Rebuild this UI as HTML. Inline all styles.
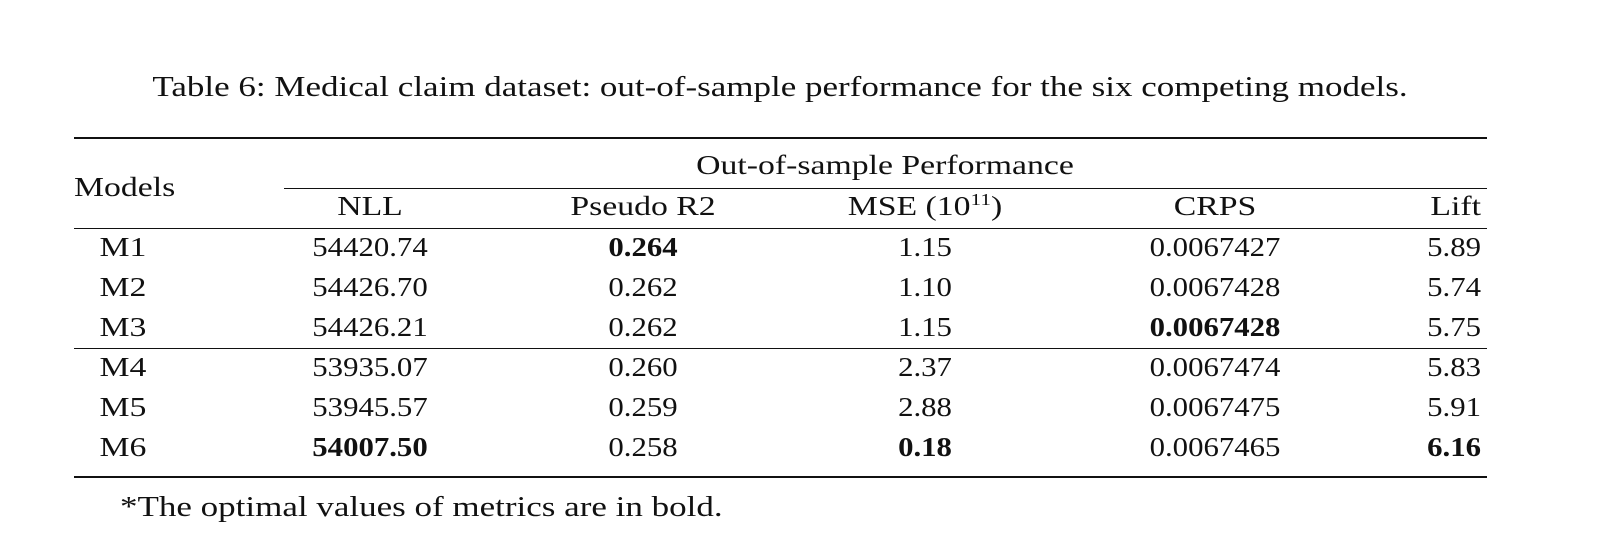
<!DOCTYPE html>
<html><head><meta charset="utf-8">
<style>
body{margin:0;width:1613px;height:551px;background:#fff;position:relative;overflow:hidden;font-family:"Liberation Serif",serif;color:#111;}
.t{position:absolute;font-size:27px;line-height:30px;white-space:nowrap;--s:1.14;}
.w{--s:1.25;}
.l{transform:scaleX(var(--s));transform-origin:left center;}
.c{transform:translateX(-50%) scaleX(var(--s));transform-origin:center center;}
.r{transform:translateX(-100%) scaleX(var(--s));transform-origin:right center;}
.rule{position:absolute;background:#111;}
sup{font-size:17px;line-height:0;}
</style></head><body>
<div class="t c w" style="left:780px;top:73px;font-size:28px;">Table 6: Medical claim dataset: out-of-sample performance for the six competing models.</div>
<div class="rule" style="left:74px;top:137px;width:1413px;height:2px"></div>
<div class="t l w" style="left:74px;top:172px;">Models</div>
<div class="t c w" style="left:885px;top:150px;">Out-of-sample Performance</div>
<div class="rule" style="left:284px;top:188px;width:1203px;height:1px"></div>
<div class="t c w" style="left:370px;top:191px;">NLL</div>
<div class="t c w" style="left:643px;top:191px;">Pseudo R2</div>
<div class="t c w" style="left:925px;top:191px;">MSE (10<sup>11</sup>)</div>
<div class="t c w" style="left:1215px;top:191px;">CRPS</div>
<div class="t r w" style="left:1481px;top:191px;">Lift</div>
<div class="rule" style="left:74px;top:228px;width:1413px;height:1px"></div>
<div class="rule" style="left:74px;top:348px;width:1413px;height:1px"></div>
<div class="rule" style="left:74px;top:476px;width:1413px;height:2px"></div>
<div class="t l w" style="left:120px;top:493px;font-size:28px;">*The optimal values of metrics are in bold.</div>
<script>
const models=["M1","M2","M3","M4","M5","M6"];
const nll=["54420.74","54426.70","54426.21","53935.07","53945.57","54007.50"];
const r2=["0.264","0.262","0.262","0.260","0.259","0.258"];
const mse=["1.15","1.10","1.15","2.37","2.88","0.18"];
const crps=["0.0067427","0.0067428","0.0067428","0.0067474","0.0067475","0.0067465"];
const lift=["5.89","5.74","5.75","5.83","5.91","6.16"];
const bold={nll:5,r2:0,mse:5,crps:2,lift:5};
const rowTops=[232,272,312,352,392,432];
const cols=[["model",models,123,"c w",-1],["nll",nll,370,"c",bold.nll],["r2",r2,643,"c",bold.r2],["mse",mse,925,"c",bold.mse],["crps",crps,1215,"c",bold.crps],["lift",lift,1481,"r",bold.lift]];
models.forEach((m,i)=>{
  cols.forEach(([k,arr,x,al,b])=>{
    const d=document.createElement('div');
    d.className='t '+al;
    d.style.left=x+'px';d.style.top=rowTops[i]+'px';
    if(b===i)d.style.fontWeight='bold';
    d.textContent=arr[i];
    
    
    document.body.appendChild(d);
  });
});
</script>
</body></html>
